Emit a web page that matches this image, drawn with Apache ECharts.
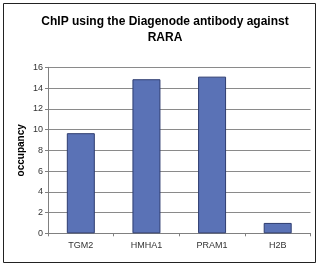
<!DOCTYPE html>
<html><head><meta charset="utf-8">
<script src="https://cdn.jsdelivr.net/npm/echarts@6/dist/echarts.min.js"></script>
<style>html,body{margin:0;padding:0;background:#fff}#c{width:323px;height:269px}</style>
</head><body><div id="c"></div>
<script>
const categories = ['TGM2', 'HMHA1', 'PRAM1', 'H2B'];
const occupancy = [9.65, 14.85, 15.1, 1.0];
const yTicks = { min: 0, max: 16, interval: 2 };
const titleText = 'ChIP using the Diagenode antibody against\nRARA';
const yName = 'occupancy';

const chart = echarts.init(document.getElementById('c'), null, { renderer: 'canvas' });
chart.setOption({
  animation: false,
  backgroundColor: '#fff',
  graphic: [{ type: 'rect', shape: { x: 3.5, y: 3.5, width: 312, height: 259 }, style: { fill: 'none', stroke: '#222', lineWidth: 1 } }],
  title: {
    text: titleText, left: 160, textAlign: 'center', top: 9,
    textStyle: { fontFamily: 'Liberation Sans, Arial', fontSize: 12, fontWeight: 'bold', color: '#000', lineHeight: 16 }
  },
  grid: { left: 48, right: 12.5, top: 67.3, bottom: 35.7, containLabel: false },
  xAxis: {
    type: 'category', data: categories,
    axisLine: { lineStyle: { color: '#808080' } },
    axisTick: { show: true, alignWithLabel: false, length: 3, lineStyle: { color: '#808080' } },
    axisLabel: { fontFamily: 'Liberation Sans, Arial', fontSize: 9, color: '#333', margin: 8 }
  },
  yAxis: {
    type: 'value', min: yTicks.min, max: yTicks.max, interval: yTicks.interval,
    name: yName, nameLocation: 'middle', nameGap: 22, nameRotate: 90, nameMoveOverlap: false,
    nameTextStyle: { fontFamily: 'Liberation Sans, Arial', fontSize: 10, fontWeight: 'bold', color: '#000' },
    axisLine: { show: true, lineStyle: { color: '#808080' } },
    axisTick: { show: true, length: 3, lineStyle: { color: '#808080' } },
    axisLabel: { fontFamily: 'Liberation Sans, Arial', fontSize: 9, color: '#333', margin: 5 },
    splitLine: { lineStyle: { color: '#8a8a8a' } }
  },
  series: [{
    type: 'bar', data: occupancy, barWidth: 28,
    itemStyle: { color: '#5a72b6', borderColor: '#2e3d70', borderWidth: 1 }
  }]
});
</script></body></html>
